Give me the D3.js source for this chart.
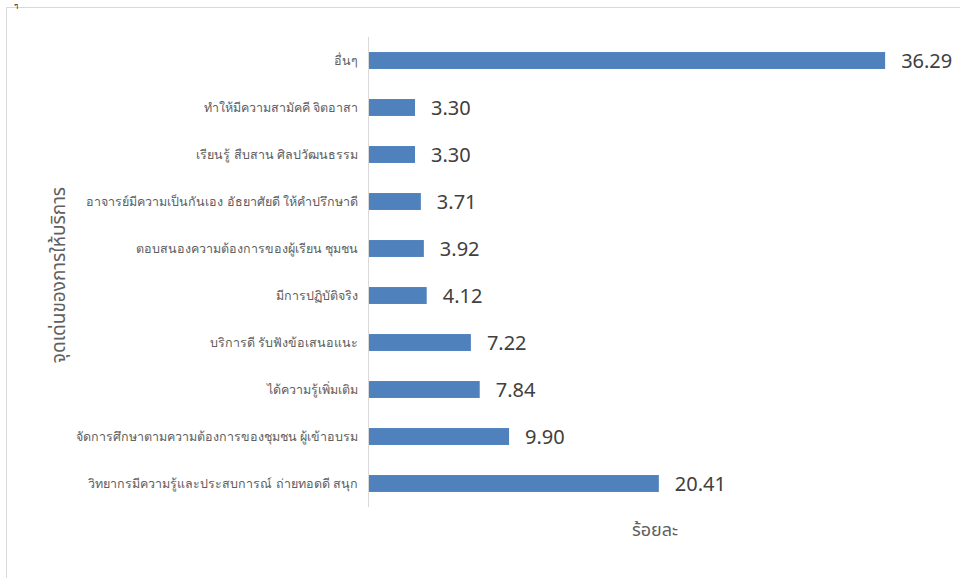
<!DOCTYPE html>
<html>
<head>
<meta charset="utf-8">
<script src="https://cdn.jsdelivr.net/npm/d3@7"></script>
<style>
  body { margin: 0; background: #fff; }
  svg { display: block; font-family: "Noto Sans Thai", "Noto Sans", "Open Sans", sans-serif; }
  .cat text { fill: #606060; font-size: 12.5px; }
  .val { fill: #404040; font-size: 20px; }
</style>
</head>
<body>
<svg id="chart" width="960" height="578"></svg>
<script>
// categories, top to bottom
var categories = [
  "อื่นๆ",
  "ทำให้มีความสามัคคี จิตอาสา",
  "เรียนรู้ สืบสาน ศิลปวัฒนธรรม",
  "อาจารย์มีความเป็นกันเอง อัธยาศัยดี ให้คำปรึกษาดี",
  "ตอบสนองความต้องการของผู้เรียน ชุมชน",
  "มีการปฏิบัติจริง",
  "บริการดี รับฟังข้อเสนอแนะ",
  "ได้ความรู้เพิ่มเติม",
  "จัดการศึกษาตามความต้องการของชุมชน ผู้เข้าอบรม",
  "วิทยากรมีความรู้และประสบการณ์ ถ่ายทอดดี สนุก"
];
var values = [36.29, 3.30, 3.30, 3.71, 3.92, 4.12, 7.22, 7.84, 9.90, 20.41];
var yTitle = "จุดเด่นของการให้บริการ";
var xTitle = "ร้อยละ";

var svg = d3.select("#chart");

// outer chart frame (runs off the right and bottom edge)
svg.append("rect")
  .attr("x", 6.5).attr("y", 7.5)
  .attr("width", 1000).attr("height", 1000)
  .attr("fill", "#fff").attr("stroke", "#d9d9d9");

// small character above the frame, top-left
svg.append("text")
  .attr("x", 14).attr("y", 8)
  .style("font-size", "7px").style("fill", "#000")
  .text("ๆ");

var x = d3.scaleLinear().domain([0, 40]).range([368, 938]);
var y = d3.scaleBand().domain(categories).range([37, 507]).paddingInner(0.64).paddingOuter(0.32);

var data = categories.map(function(c, i) { return {cat: c, val: values[i]}; });

svg.selectAll("rect.bar")
  .data(data)
  .enter().append("rect")
  .attr("class", "bar")
  .attr("x", x(0))
  .attr("y", function(d) { return y(d.cat); })
  .attr("width", function(d) { return x(d.val) - x(0); })
  .attr("height", y.bandwidth())
  .attr("fill", "#4f81bd");

// category axis
var yAxis = svg.append("g")
  .attr("class", "cat")
  .attr("transform", "translate(" + x(0) + ",0)")
  .call(d3.axisLeft(y).tickSize(0).tickPadding(10));
yAxis.select(".domain").attr("stroke", "#d9d9d9").attr("d", "M0.5,37V507");

svg.selectAll("text.val")
  .data(data)
  .enter().append("text")
  .attr("class", "val")
  .attr("x", function(d) { return x(d.val) + 16; })
  .attr("y", function(d) { return y(d.cat) + y.bandwidth() / 2; })
  .attr("dy", "0.35em")
  .text(function(d) { return d.val.toFixed(2); });

svg.append("text")
  .attr("x", 655).attr("y", 536)
  .attr("text-anchor", "middle")
  .style("font-size", "18px").style("fill", "#606060")
  .text(xTitle);

svg.append("text")
  .attr("transform", "translate(65,275) rotate(-90)")
  .attr("text-anchor", "middle")
  .style("font-size", "19px").style("fill", "#606060")
  .text(yTitle);
</script>
</body>
</html>
